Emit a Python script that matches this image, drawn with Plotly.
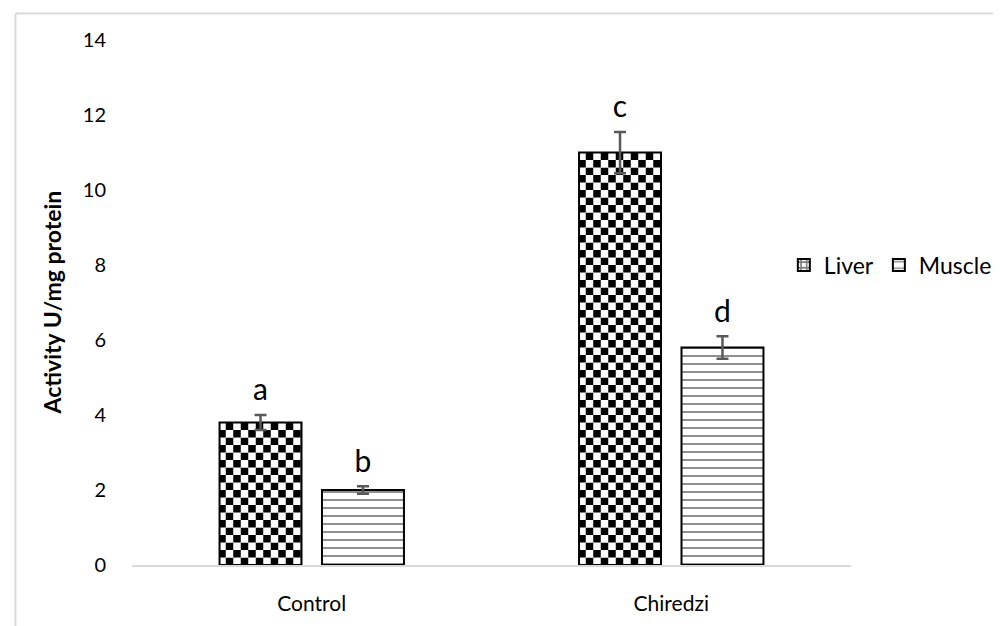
import numpy as np
import plotly.graph_objects as go

# ---------------- data ----------------
categories = ["Control", "Chiredzi"]
series_names = ["Liver", "Muscle"]
liver = [3.8, 11.0]
liver_err = [0.2, 0.55]
muscle = [2.0, 5.8]
muscle_err = [0.1, 0.3]
liver_letters = ["a", "c"]
muscle_letters = ["b", "d"]
y_ticks = [0, 2, 4, 6, 8, 10, 12, 14]
y_title = "Activity U/mg protein"

# ---------------- style / layout constants ----------------
W, H = 1001, 626
ML, MR, MT, MB = 124, 149, 32, 69
PW, PH = W - ML - MR, H - MT - MB
FONT = "Lato"
ERR_COLOR = "#595959"
FRAME = "#d9d9d9"
CHECK_ROW = 0.2          # checkerboard row height (data units) = half the stripe period
CHECK_SIZE = 15          # stripe pattern period in px (37.5 px per unit * 0.2 * 2)


def px_x(p):
    return (p - ML) / PW


def px_y(p):
    return (H - MB - p) / PH


# Checkerboard fill for the Liver bars: each bar is split into rows, and the
# vertical-stripe pattern colours are swapped on alternate rows.
seg_x, seg_base, seg_h, seg_fg, seg_bg = [], [], [], [], []
for cat, val in zip(categories, liver):
    n = int(np.ceil(round(val / CHECK_ROW, 6)))
    for k in range(n):
        start = k * CHECK_ROW
        seg_x.append(cat)
        seg_base.append(start)
        seg_h.append(min(CHECK_ROW, val - start))
        even = (k % 2 == 0)
        seg_fg.append("black" if even else "white")
        seg_bg.append("white" if even else "black")

err_style = dict(type="data", color=ERR_COLOR, thickness=2.5, width=6)

fig = go.Figure()

# Liver checkerboard body
fig.add_trace(go.Bar(
    x=seg_x, y=seg_h, base=seg_base, offsetgroup="liver",
    marker=dict(color="white", line=dict(width=0),
                pattern=dict(shape="|", size=CHECK_SIZE, solidity=0.5,
                             fgcolor=seg_fg, bgcolor=seg_bg, fillmode="replace")),
    showlegend=False, hoverinfo="skip",
))
# Liver outline + error bars
fig.add_trace(go.Bar(
    x=categories, y=liver, offsetgroup="liver", name=series_names[0],
    marker=dict(color="rgba(0,0,0,0)", line=dict(color="black", width=2)),
    error_y=dict(array=liver_err, **err_style),
    showlegend=False,
))
# Liver legend entry
fig.add_trace(go.Bar(
    x=[categories[0]], y=[None], offsetgroup="liver", name=series_names[0],
    marker=dict(color="white", line=dict(color="black", width=2),
                pattern=dict(shape="+", size=7, solidity=0.5,
                             fgcolor="black", bgcolor="white")),
    showlegend=True, hoverinfo="skip",
))
# Muscle bars
fig.add_trace(go.Bar(
    x=categories, y=muscle, offsetgroup="muscle", name=series_names[1],
    marker=dict(color="white", line=dict(color="black", width=2),
                pattern=dict(shape="-", size=8, solidity=0.22,
                             fgcolor="black", bgcolor="white")),
    error_y=dict(array=muscle_err, **err_style),
    showlegend=True,
))

# significance letters above the error bars
for vals, errs, letters, grp in [(liver, liver_err, liver_letters, "liver"),
                                 (muscle, muscle_err, muscle_letters, "muscle")]:
    fig.add_trace(go.Scatter(
        x=categories, y=[v + e for v, e in zip(vals, errs)], text=letters,
        mode="markers+text", offsetgroup=grp,
        marker=dict(size=10, opacity=0),
        textposition="top center",
        textfont=dict(family=FONT, size=30, color="black"),
        showlegend=False, hoverinfo="skip", cliponaxis=False,
    ))

fig.update_layout(
    width=W, height=H,
    margin=dict(l=ML, r=MR, t=MT, b=MB, pad=0),
    paper_bgcolor="white", plot_bgcolor="white",
    barmode="group", bargap=0.43, bargroupgap=0.2,
    scattermode="group", scattergap=0.43,
    font=dict(family=FONT, color="black"),
    legend=dict(orientation="h", x=px_x(784), y=px_y(257),
                xanchor="left", yanchor="middle",
                font=dict(family=FONT, size=23, color="black"),
                bgcolor="rgba(0,0,0,0)", traceorder="normal"),
    shapes=[
        dict(type="line", xref="paper", yref="paper",
             x0=px_x(6), x1=px_x(W + 5), y0=px_y(5.5), y1=px_y(5.5),
             line=dict(color=FRAME, width=2)),
        dict(type="line", xref="paper", yref="paper",
             x0=px_x(6), x1=px_x(6), y0=px_y(5.5), y1=px_y(H + 5),
             line=dict(color=FRAME, width=2)),
    ],
    annotations=[
        dict(text=y_title, xref="paper", yref="paper",
             x=px_x(42), y=0.5, xanchor="center", yanchor="middle",
             textangle=-90, showarrow=False,
             font=dict(family=FONT, size=23, color="black", weight="bold")),
    ],
)

fig.update_xaxes(
    type="category", categoryorder="array", categoryarray=categories,
    showline=True, linecolor=FRAME, linewidth=1.5,
    showgrid=False, zeroline=False, ticks="",
    tickfont=dict(family=FONT, size=21, color="black"),
    ticklabelstandoff=19,
)
fig.update_yaxes(
    range=[0, 14], tickvals=y_ticks, ticktext=[str(t) for t in y_ticks],
    showline=False, showgrid=False, zeroline=False, ticks="",
    tickfont=dict(family=FONT, size=20, color="black"),
    ticklabelstandoff=25,
)

fig.write_html("out.html")
